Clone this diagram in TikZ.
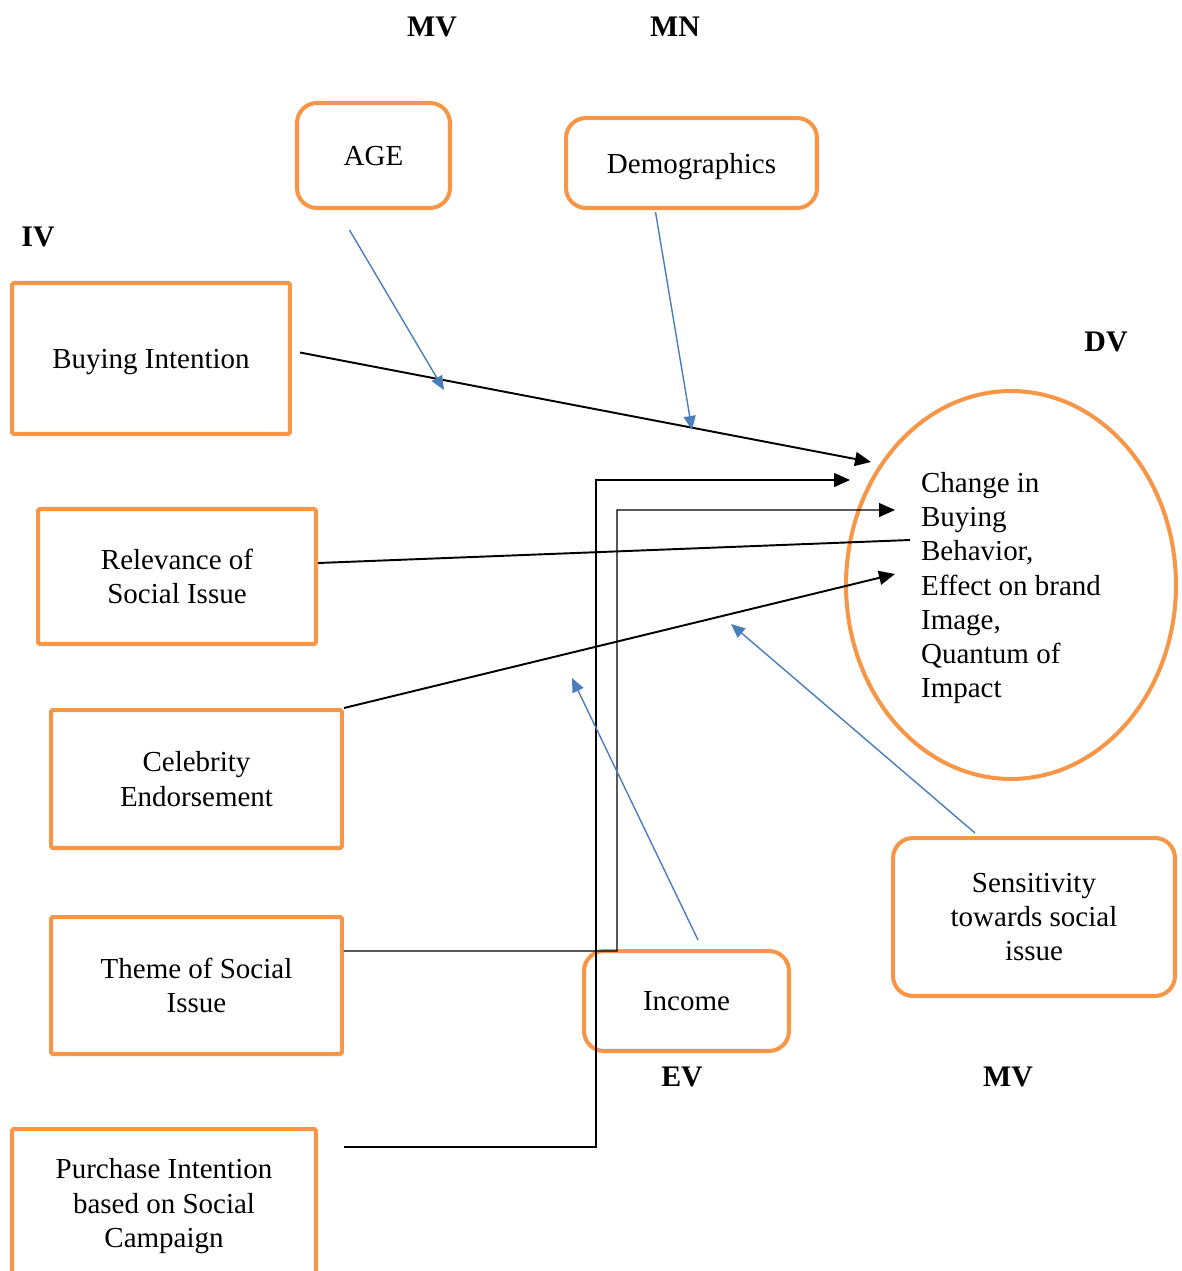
\documentclass[tikz,border=0pt]{standalone}
\usepackage{fontspec}
\setmainfont{Liberation Serif}
\usepackage{tikz}
\usetikzlibrary{arrows.meta, shapes.geometric, positioning}

\definecolor{boxorange}{HTML}{F79646}
\definecolor{linkblue}{HTML}{4A7EBB}

\begin{document}
\begin{tikzpicture}[x=0.02cm, y=-0.02cm,
    every node/.style = {font=\fontsize{16.5}{19.5}\selectfont, align=center, inner sep=0pt},
    varbox/.style = {draw=boxorange, line width=2.3pt, rounded corners=1pt, text depth=0pt},
    roundbox/.style = {draw=boxorange, line width=2.3pt, rounded corners=0.4cm, text depth=0pt},
    tag/.style = {font=\fontsize{17}{20}\selectfont\bfseries},
    dvarrow/.style = {line width=1.1pt, -{Triangle[length=0.32cm, width=0.28cm]}},
    elbow/.style = {line width=0.6pt, -{Triangle[length=0.32cm, width=0.28cm]}},
    modarrow/.style = {draw=linkblue, line width=0.8pt, -{Triangle[length=0.28cm, width=0.24cm]}, linkblue}
  ]
  \useasboundingbox (0,0) rectangle (1181,1271);

  % variable labels
  \node[tag] (mvtop) at (432,27) {MV};
  \node[tag] (mn) at (675,27) {MN};
  \node[tag] (iv) at (38,237) {IV};
  \node[tag] (dvl) at (1106,342) {DV};
  \node[tag] (ev) at (682,1077) {EV};
  \node[tag] (mvbot) at (1008,1077) {MV};

  % moderators
  \node[roundbox, minimum width=3.06cm, minimum height=2.1cm] (age) at (373.5,155.5) {AGE};
  \node[roundbox, minimum width=5.02cm, minimum height=1.8cm] (demo) at (691.5,163) {Demographics};
  \node[roundbox, minimum width=4.1cm, minimum height=2cm] (inc) at (686.5,1001) {Income};
  \node[roundbox, minimum width=5.64cm, minimum height=3.16cm] (sens) at (1034,917) {Sensitivity\\towards social\\issue};

  % independent variables
  \node[varbox, minimum width=5.56cm, minimum height=3.02cm] (bi) at (151,358.5) {Buying Intention};
  \node[varbox, minimum width=5.56cm, minimum height=2.7cm] (rel) at (177,576.5) {Relevance of\\Social Issue};
  \node[varbox, minimum width=5.82cm, minimum height=2.76cm] (cel) at (196.5,779) {Celebrity\\Endorsement};
  \node[varbox, minimum width=5.82cm, minimum height=2.74cm] (theme) at (196.5,985.5) {Theme of Social\\Issue};
  \node[varbox, minimum width=6.08cm, minimum height=2.96cm] (pur) at (164,1203) {Purchase Intention\\based on Social\\Campaign};

  % dependent variable
  \node[ellipse, draw=boxorange, line width=2.3pt, minimum width=6.6cm, minimum height=7.76cm, align=left, text depth=0pt] (dv) at (1011,585)
    {Change in\\Buying\\Behavior,\\Effect on brand\\Image,\\Quantum of\\Impact};

  % free ends
  \coordinate (biend) at (871,462);
  \coordinate (purend) at (850,480);
  \coordinate (themeend) at (895,510);
  \coordinate (relend) at (910,540);
  \coordinate (celend) at (895,574);
  \coordinate (ageend) at (444,390);
  \coordinate (demoend) at (692,430);
  \coordinate (incend) at (572,678);
  \coordinate (sensend) at (731,624);

  % links to DV
  \draw[dvarrow] ([shift={(8,-6)}]bi.east) -- (biend);
  \draw[line width=1.1pt] ([yshift=0.27cm]rel.east) -- (relend);
  \draw[dvarrow] (cel.north east) -- (celend);
  \draw[elbow] ([yshift=0.69cm]theme.east) -- (617,951) -- (617,510) -- (themeend);
  \draw[elbow] ([shift={(26,-56)}]pur.east) -- (596,1147) -- (596,480) -- (purend);

  % moderator links
  \draw[modarrow] ([shift={(-24,20)}]age.south) -- (ageend);
  \draw[modarrow] ([shift={(-36,2)}]demo.south) -- (demoend);
  \draw[modarrow] ([shift={(11.5,-9)}]inc.north) -- (incend);
  \draw[modarrow] ([shift={(-59,-3)}]sens.north) -- (sensend);
\end{tikzpicture}
\end{document}
